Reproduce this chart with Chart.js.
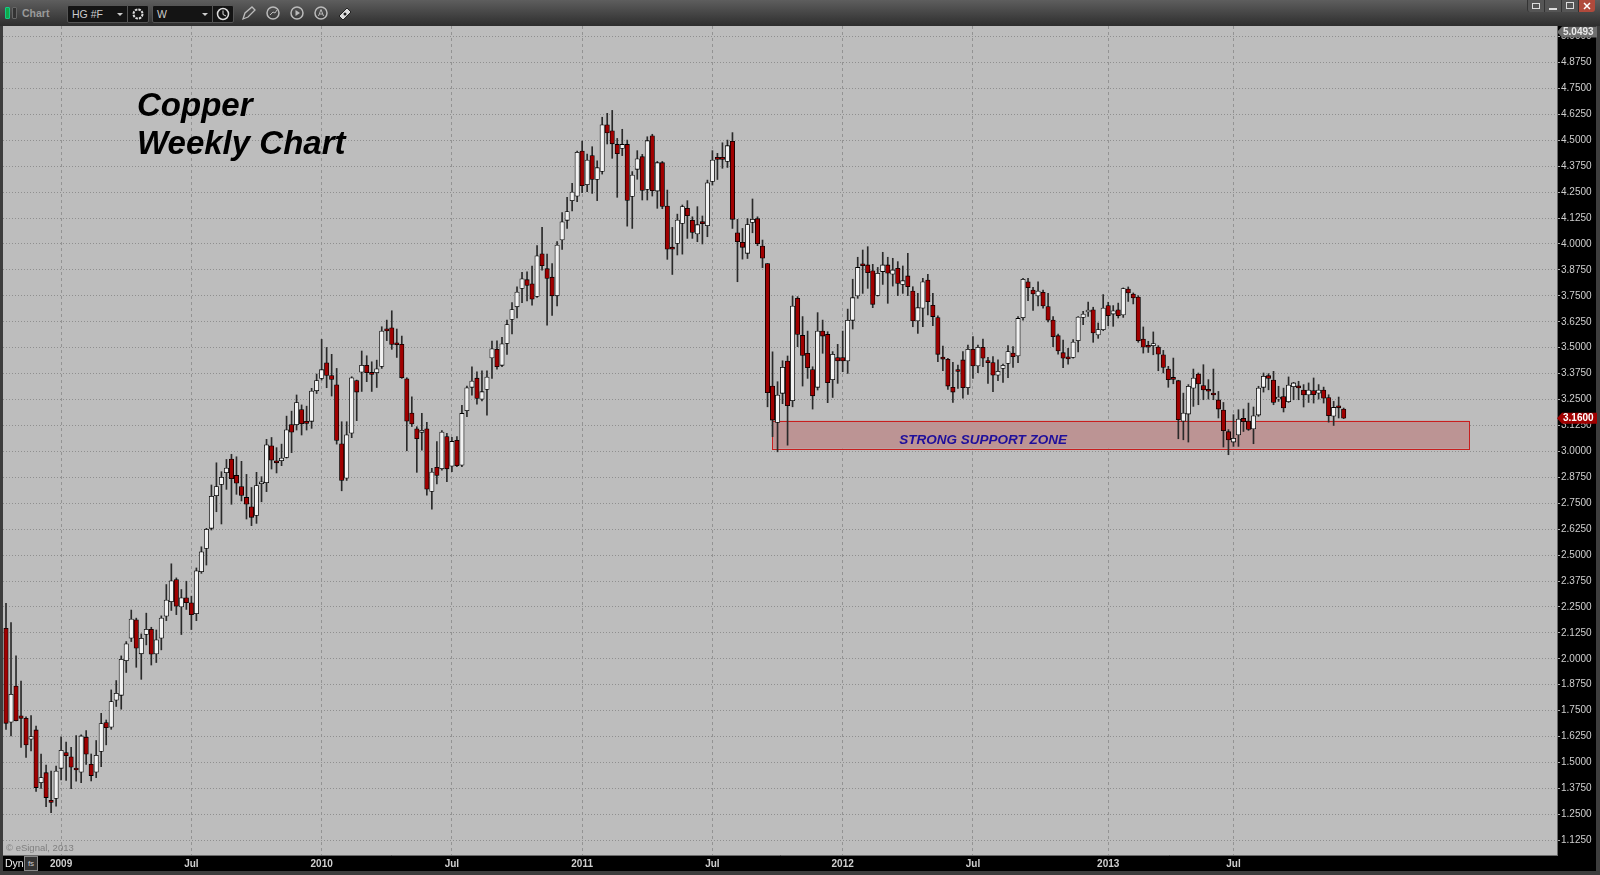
<!DOCTYPE html>
<html>
<head>
<meta charset="utf-8">
<title>Copper Weekly Chart</title>
<script src="https://cdn.jsdelivr.net/npm/chart.js@4"></script>
<style>
html, body { margin: 0; padding: 0; width: 1600px; height: 875px; overflow: hidden; background: #3d3d3d; font-family: "Liberation Sans", Arial, sans-serif; }
#priceChart { position: absolute; left: 0; top: 0; }
#topbar { position: absolute; left: 0; top: 0; width: 1600px; height: 26px; background: linear-gradient(#5e5e5e, #2e2e2e); }
#topbar div, #topbar svg, .over { position: absolute; }
.chartname { left: 22px; top: 7px; font-size: 10.5px; font-weight: bold; color: #9a9a9a; }
.lamp { top: 7px; width: 3px; height: 10px; border: 1px solid #666; border-radius: 1px; }
.pick { top: 5px; height: 16px; background: #141414; border: 1px solid #555; color: #ccc; font-size: 10.5px; line-height: 16px; text-indent: 4px; border-radius: 2px 0 0 2px; box-sizing: content-box; }
.pick span { position: absolute; right: 4px; top: 7px; width: 0; height: 0; border: 3px solid transparent; border-top: 3px solid #ccc; }
.iconbox { top: 5px; width: 20px; height: 16px; background: #141414; border: 1px solid #555; border-radius: 0 2px 2px 0; }
.winbtn { top: 0; width: 16px; height: 12px; background: #555; border-left: 1px solid #333; color: #ddd; }
#title { left: 137px; top: 86px; font-size: 33px; line-height: 38px; font-weight: bold; font-style: italic; color: #000; }
#dyn { left: 5px; top: 857px; font-size: 10.5px; color: #eee; }
#lockbox { left: 24px; top: 856px; width: 12px; height: 13px; border: 1px solid #888; background: #333; color: #ccc; font-size: 8px; line-height: 13px; text-align: center; }
</style>
</head>
<body>
<canvas id="priceChart" width="1600" height="875"></canvas>

<div id="topbar">
  <div class="lamp" style="left:5px;background:#12a84a;border-color:#1c8"></div>
  <div class="lamp" style="left:12px;background:#333"></div>
  <div class="chartname">Chart</div>
  <div class="pick" style="left:67px;width:59px">HG #F<span></span></div>
  <div class="iconbox" style="left:127px">
    <svg style="left:3px;top:1px" width="14" height="14"><circle cx="7" cy="7" r="4.5" fill="none" stroke="#ddd" stroke-width="2" stroke-dasharray="2.5 1"/></svg>
  </div>
  <div class="pick" style="left:152px;width:59px">W<span></span></div>
  <div class="iconbox" style="left:212px">
    <svg style="left:3px;top:1px" width="14" height="14"><circle cx="7" cy="7" r="5.5" fill="none" stroke="#ddd" stroke-width="1.5"/><path d="M7 3.5V7.5L10 9" fill="none" stroke="#ddd"/></svg>
  </div>
  <svg style="left:240px;top:4px" width="18" height="18"><path d="M3 15L5 9L12 3L15 6L8 13Z" fill="none" stroke="#bbb" stroke-width="1.3"/></svg>
  <svg style="left:264px;top:4px" width="18" height="18"><circle cx="9" cy="9" r="6" fill="none" stroke="#bbb" stroke-width="1.5"/><path d="M6 11L9 8L11 9L13 6" fill="none" stroke="#bbb"/></svg>
  <svg style="left:288px;top:4px" width="18" height="18"><circle cx="9" cy="9" r="6" fill="none" stroke="#bbb" stroke-width="1.5"/><path d="M7.5 6V12L12 9Z" fill="#bbb"/></svg>
  <svg style="left:312px;top:4px" width="18" height="18"><circle cx="9" cy="9" r="6" fill="none" stroke="#bbb" stroke-width="1.5"/><path d="M6.5 12L9 5.5L11.5 12M7.5 10H10.5" fill="none" stroke="#bbb"/></svg>
  <svg style="left:336px;top:4px" width="18" height="18"><path d="M3 12L11 4L15 8L7 16Z" fill="#ddd" stroke="#222"/><circle cx="9" cy="10" r="1.5" fill="#222"/></svg>
  <div class="winbtn" style="left:1527px;border-radius:0 0 0 3px"><svg style="left:4px;top:3px" width="9" height="7"><rect x="0.5" y="0.5" width="7" height="5" fill="none" stroke="#ddd"/></svg></div>
  <div class="winbtn" style="left:1544px"><svg style="left:4px;top:8px" width="9" height="2"><rect width="8" height="2" fill="#ddd"/></svg></div>
  <div class="winbtn" style="left:1561px"><svg style="left:4px;top:2px" width="9" height="8"><rect x="0.5" y="0.5" width="7" height="6" fill="none" stroke="#ddd"/></svg></div>
  <div class="winbtn" style="left:1578px;background:#b04a3c;border-radius:0 0 3px 0"><svg style="left:4px;top:2px" width="9" height="8"><path d="M1 1L7 7M7 1L1 7" stroke="#fff" stroke-width="1.5"/></svg></div>
</div>

<div class="over" id="title">Copper<br>Weekly Chart</div>
<div class="over" id="dyn">Dyn</div>
<div class="over" id="lockbox">fs</div>

<script>
// weekly candles, oldest first
const opens = [
  2.147,1.694,1.869,1.725,1.713,1.612,1.657,1.403,1.451,1.318,
  1.327,1.472,1.548,1.527,1.467,1.453,1.622,1.491,1.453,1.553,
  1.693,1.670,1.800,1.824,1.991,2.099,2.188,2.024,2.117,2.142,
  2.023,2.099,2.205,2.275,2.382,2.250,2.294,2.270,2.217,2.420,
  2.532,2.629,2.786,2.841,2.897,2.963,2.884,2.830,2.778,2.733,
  2.691,2.844,2.849,3.027,2.947,2.955,2.971,3.129,3.129,3.202,
  3.137,3.145,3.292,3.352,3.427,3.366,3.321,3.037,2.871,3.088,
  3.342,3.382,3.415,3.379,3.379,3.410,3.583,3.596,3.516,3.516,
  3.350,3.185,3.109,3.092,3.109,2.807,2.923,2.916,3.072,2.929,
  3.053,2.933,3.196,3.309,3.353,3.252,3.299,3.451,3.492,3.415,
  3.520,3.636,3.697,3.786,3.828,3.808,3.747,3.953,3.881,3.840,
  3.750,4.019,4.114,4.209,4.230,4.448,4.286,4.426,4.311,4.350,
  4.575,4.546,4.480,4.461,4.480,4.229,4.360,4.421,4.263,4.522,
  4.255,4.392,4.183,3.977,4.003,4.099,4.172,4.114,4.048,4.100,
  4.088,4.302,4.410,4.410,4.398,4.495,4.054,4.008,3.955,4.104,
  4.122,3.990,3.906,3.315,3.140,3.280,3.436,3.244,3.738,3.559,
  3.473,3.395,3.309,3.580,3.564,3.346,3.452,3.452,3.436,3.632,
  3.749,3.897,3.899,3.871,3.752,3.867,3.899,3.854,3.883,3.805,
  3.846,3.773,3.629,3.690,3.826,3.704,3.645,3.448,3.444,3.309,
  3.387,3.441,3.307,3.492,3.412,3.502,3.436,3.428,3.367,3.400,
  3.424,3.474,3.460,3.645,3.818,3.778,3.749,3.767,3.698,3.633,
  3.558,3.476,3.448,3.453,3.534,3.646,3.672,3.683,3.561,3.587,
  3.703,3.662,3.683,3.658,3.783,3.759,3.744,3.542,3.504,3.510,
  3.503,3.466,3.397,3.349,3.341,3.146,3.180,3.305,3.373,3.317,
  3.292,3.281,3.248,3.199,3.095,3.045,3.079,3.159,3.146,3.108,
  3.175,3.309,3.365,3.344,3.252,3.264,3.240,3.312,3.308,3.296,
  3.272,3.293,3.281,3.296,3.260,3.170,3.212,3.204
];
const closes = [
  1.689,1.829,1.702,1.713,1.585,1.625,1.379,1.427,1.331,1.307,
  1.459,1.559,1.533,1.477,1.464,1.628,1.540,1.437,1.535,1.688,
  1.668,1.794,1.834,1.998,2.072,2.192,2.051,2.099,2.142,2.022,
  2.092,2.196,2.283,2.376,2.254,2.294,2.270,2.213,2.424,2.516,
  2.624,2.783,2.830,2.875,2.920,2.868,2.847,2.788,2.745,2.682,
  2.835,2.847,3.032,2.958,2.945,2.968,3.104,3.093,3.235,3.133,
  3.135,3.291,3.342,3.394,3.366,3.347,3.053,2.860,3.080,3.355,
  3.286,3.415,3.379,3.371,3.398,3.580,3.581,3.516,3.514,3.355,
  3.146,3.132,3.061,3.100,2.818,2.900,2.884,3.093,2.916,3.048,
  2.931,3.183,3.307,3.339,3.255,3.288,3.358,3.495,3.408,3.519,
  3.612,3.684,3.768,3.832,3.800,3.734,3.943,3.895,3.834,3.750,
  3.995,4.107,4.156,4.250,4.442,4.281,4.405,4.311,4.368,4.575,
  4.535,4.483,4.435,4.480,4.210,4.332,4.411,4.258,4.498,4.257,
  4.392,4.181,3.975,3.975,4.115,4.180,4.136,4.056,4.093,4.098,
  4.295,4.405,4.408,4.408,4.474,4.119,4.011,3.984,4.094,4.119,
  4.001,3.931,3.283,3.151,3.272,3.405,3.220,3.701,3.564,3.463,
  3.404,3.268,3.580,3.556,3.331,3.468,3.436,3.436,3.632,3.741,
  3.887,3.895,3.862,3.709,3.859,3.899,3.859,3.875,3.810,3.823,
  3.794,3.629,3.693,3.818,3.722,3.650,3.468,3.445,3.315,3.286,
  3.385,3.307,3.492,3.412,3.502,3.449,3.428,3.367,3.386,3.415,
  3.481,3.457,3.641,3.830,3.789,3.759,3.773,3.701,3.633,3.553,
  3.484,3.449,3.446,3.527,3.648,3.662,3.680,3.571,3.587,3.691,
  3.654,3.678,3.654,3.785,3.764,3.740,3.534,3.502,3.502,3.518,
  3.469,3.405,3.346,3.347,3.153,3.185,3.314,3.354,3.325,3.296,
  3.290,3.272,3.204,3.100,3.055,3.063,3.156,3.143,3.106,3.172,
  3.305,3.362,3.352,3.236,3.260,3.209,3.320,3.330,3.306,3.272,
  3.296,3.273,3.296,3.256,3.172,3.212,3.210,3.160
];
const highs = [
  2.268,2.175,2.014,1.892,1.720,1.726,1.676,1.541,1.488,1.459,
  1.483,1.622,1.598,1.573,1.630,1.633,1.654,1.541,1.606,1.737,
  1.705,1.850,1.895,2.014,2.083,2.235,2.196,2.120,2.220,2.152,
  2.139,2.207,2.358,2.458,2.390,2.334,2.374,2.302,2.438,2.540,
  2.629,2.838,2.945,2.902,2.961,2.986,2.974,2.952,2.889,2.826,
  2.899,2.878,3.058,3.067,3.018,3.035,3.170,3.194,3.272,3.224,
  3.218,3.304,3.373,3.540,3.501,3.468,3.400,3.143,3.143,3.360,
  3.344,3.484,3.461,3.432,3.440,3.601,3.633,3.678,3.590,3.556,
  3.355,3.263,3.119,3.183,3.140,2.918,3.047,3.100,3.087,3.068,
  3.071,3.222,3.315,3.408,3.384,3.389,3.389,3.532,3.533,3.550,
  3.633,3.718,3.794,3.863,3.866,3.893,3.992,4.080,3.951,3.906,
  4.011,4.152,4.225,4.292,4.448,4.496,4.434,4.469,4.401,4.611,
  4.630,4.644,4.509,4.553,4.501,4.349,4.450,4.432,4.517,4.529,
  4.398,4.398,4.260,4.080,4.144,4.188,4.209,4.131,4.180,4.135,
  4.308,4.450,4.437,4.488,4.501,4.537,4.119,4.075,4.123,4.217,
  4.131,4.019,3.906,3.480,3.336,3.437,3.460,3.749,3.746,3.650,
  3.580,3.408,3.669,3.633,3.577,3.481,3.516,3.580,3.686,3.830,
  3.936,3.971,3.987,3.902,3.887,3.960,3.936,3.931,3.915,3.894,
  3.955,3.794,3.762,3.834,3.854,3.762,3.653,3.508,3.449,3.429,
  3.416,3.481,3.513,3.553,3.513,3.542,3.453,3.457,3.441,3.421,
  3.510,3.505,3.650,3.834,3.834,3.791,3.818,3.778,3.762,3.650,
  3.566,3.537,3.497,3.539,3.650,3.675,3.720,3.695,3.619,3.756,
  3.719,3.703,3.715,3.788,3.793,3.764,3.751,3.600,3.531,3.576,
  3.510,3.487,3.410,3.450,3.343,3.281,3.322,3.397,3.378,3.418,
  3.346,3.397,3.289,3.236,3.105,3.177,3.201,3.204,3.233,3.214,
  3.314,3.378,3.375,3.386,3.314,3.305,3.359,3.333,3.338,3.322,
  3.330,3.354,3.322,3.310,3.273,3.241,3.262,3.209
];
const lows = [
  1.660,1.628,1.700,1.573,1.524,1.556,1.360,1.375,1.287,1.258,
  1.290,1.416,1.414,1.374,1.410,1.403,1.491,1.411,1.427,1.480,
  1.585,1.660,1.770,1.757,1.934,2.083,1.959,1.901,2.067,1.970,
  1.982,2.043,2.184,2.233,2.213,2.117,2.238,2.141,2.184,2.412,
  2.452,2.621,2.709,2.650,2.817,2.745,2.793,2.761,2.674,2.642,
  2.653,2.757,2.806,2.915,2.896,2.931,2.968,2.994,3.103,3.079,
  3.103,3.111,3.279,3.344,3.307,3.267,3.035,2.810,2.860,3.066,
  3.148,3.289,3.336,3.289,3.308,3.400,3.534,3.492,3.453,3.352,
  3.003,3.120,2.899,3.006,2.789,2.722,2.843,2.910,2.854,2.902,
  2.926,2.926,3.167,3.271,3.228,3.243,3.175,3.352,3.397,3.408,
  3.468,3.566,3.644,3.717,3.726,3.705,3.742,3.874,3.609,3.656,
  3.701,3.974,4.075,4.160,4.204,4.247,4.252,4.244,4.209,4.337,
  4.482,4.413,4.225,4.426,4.086,4.075,4.312,4.212,4.212,4.231,
  4.172,4.170,3.926,3.853,3.947,3.951,4.027,4.027,4.011,4.000,
  4.035,4.284,4.311,4.365,4.369,4.075,3.818,3.927,3.930,4.054,
  3.992,3.886,3.215,3.071,2.998,3.230,3.030,3.215,3.505,3.315,
  3.352,3.204,3.296,3.473,3.235,3.260,3.328,3.384,3.376,3.590,
  3.738,3.762,3.786,3.693,3.749,3.805,3.714,3.797,3.751,3.762,
  3.751,3.601,3.569,3.601,3.658,3.606,3.432,3.389,3.299,3.236,
  3.304,3.256,3.275,3.352,3.379,3.408,3.328,3.288,3.341,3.333,
  3.355,3.405,3.428,3.633,3.727,3.680,3.701,3.690,3.624,3.505,
  3.469,3.404,3.421,3.450,3.479,3.611,3.651,3.526,3.545,3.582,
  3.606,3.603,3.643,3.646,3.723,3.711,3.526,3.474,3.477,3.466,
  3.389,3.378,3.309,3.326,3.061,3.056,3.045,3.217,3.225,3.249,
  3.252,3.249,3.161,3.021,2.984,3.024,3.024,3.096,3.101,3.037,
  3.169,3.286,3.297,3.225,3.241,3.190,3.236,3.249,3.249,3.214,
  3.236,3.233,3.252,3.233,3.141,3.125,3.161,3.158
];

// x axis: position in weeks counted from the first candle
const xTickWeeks = [11, 37, 63, 89, 115, 141, 167, 193, 220, 245];
const xTickLabels = ['2009', 'Jul', '2010', 'Jul', '2011', 'Jul', '2012', 'Jul', '2013', 'Jul'];
const yTickValues = [1.125, 1.25, 1.375, 1.5, 1.625, 1.75, 1.875, 2, 2.125, 2.25, 2.375, 2.5, 2.625, 2.75, 2.875, 3,
  3.125, 3.25, 3.375, 3.5, 3.625, 3.75, 3.875, 4, 4.125, 4.25, 4.375, 4.5, 4.625, 4.75, 4.875, 5];

// support zone and the two price tags
const zonePrices = [3.013, 3.148];
const zoneWeeks = [152.95, 292.1];
const zoneLabel = 'STRONG SUPPORT ZONE';
const zoneLabelWeek = 178.3;
const zoneLabelPrice = 3.0;
const lastPrice = 3.16;
const topPrice = 5.0493;

const redFill = '#a00000';
const whiteFill = '#f2f2f2';

function priceTag(ctx, y, text, fill, color) {
    const x = 1557;
    ctx.fillStyle = fill;
    ctx.beginPath();
    ctx.moveTo(x, y);
    ctx.lineTo(x + 5, y - 5.5);
    ctx.lineTo(x + 40, y - 5.5);
    ctx.lineTo(x + 40, y + 5.5);
    ctx.lineTo(x + 5, y + 5.5);
    ctx.closePath();
    ctx.fill();
    ctx.fillStyle = color;
    ctx.font = 'bold 10px "Liberation Sans"';
    ctx.textAlign = 'left';
    ctx.textBaseline = 'middle';
    ctx.fillText(text, x + 6, y + 0.5);
}

const chromePlugin = {
    id: 'chrome',
    beforeDraw(chart) {
        const { ctx, chartArea: a } = chart;
        ctx.save();
        ctx.fillStyle = '#000';
        ctx.fillRect(a.left, a.top, 1596 - a.left, 871 - a.top);
        ctx.fillStyle = '#bdbdbd';
        ctx.fillRect(a.left, a.top, a.right - a.left, a.bottom - a.top);
        ctx.restore();
    },
    beforeDatasetsDraw(chart) {
        const { ctx, scales: { x, y } } = chart;
        const left = x.getPixelForValue(zoneWeeks[0]);
        const right = x.getPixelForValue(zoneWeeks[1]);
        const top = y.getPixelForValue(zonePrices[1]);
        const bottom = y.getPixelForValue(zonePrices[0]);
        ctx.save();
        ctx.fillStyle = '#bc9494';
        ctx.fillRect(left, top, right - left, bottom - top);
        ctx.strokeStyle = '#c81e1e';
        ctx.lineWidth = 1;
        ctx.strokeRect(Math.round(left) + 0.5, Math.round(top) + 0.5, Math.round(right - left), Math.round(bottom - top));
        ctx.restore();
    },
    afterDraw(chart) {
        const { ctx, chartArea: a, scales: { x, y } } = chart;
        ctx.save();
        // the zone caption
        ctx.fillStyle = '#1f0f9c';
        ctx.font = 'italic bold 13.5px "Liberation Sans"';
        ctx.textAlign = 'left';
        ctx.textBaseline = 'alphabetic';
        ctx.fillText(zoneLabel, x.getPixelForValue(zoneLabelWeek), y.getPixelForValue(zoneLabelPrice) - 7);
        // copyright in the corner
        ctx.fillStyle = '#7f7f7f';
        ctx.font = '9.5px "Liberation Sans"';
        ctx.fillText('© eSignal, 2013', 6, 851);
        // price tags, the top one is kept inside the plot
        priceTag(ctx, Math.max(a.top + 6, y.getPixelForValue(topPrice)), topPrice.toFixed(4), '#6e6e6e', '#e8e8e8');
        priceTag(ctx, y.getPixelForValue(lastPrice), lastPrice.toFixed(4), '#a00000', '#fff');
        ctx.restore();
    }
};

const bodies = opens.map((o, i) => ({ x: i, y: [o, closes[i]] }));
const wicks = highs.map((h, i) => ({ x: i, y: [lows[i], h] }));

new Chart(document.getElementById('priceChart'), {
    type: 'bar',
    plugins: [chromePlugin],
    data: {
        datasets: [
            {
                label: 'Body',
                data: bodies,
                grouped: false,
                barThickness: 4.4,
                minBarLength: 2,
                borderSkipped: false,
                borderWidth: 0.8,
                borderColor: '#000',
                backgroundColor: opens.map((o, i) => (closes[i] >= o ? whiteFill : redFill))
            },
            {
                label: 'Wick',
                data: wicks,
                grouped: false,
                barThickness: 1,
                backgroundColor: '#2a2a2a',
                borderWidth: 0
            }
        ]
    },
    options: {
        responsive: false,
        animation: false,
        layout: { padding: { left: 3, top: 26, right: 3, bottom: 4 } },
        plugins: { legend: { display: false }, tooltip: { enabled: false } },
        scales: {
            x: {
                type: 'linear',
                offset: false,
                min: -0.6,
                max: 309.58,
                afterBuildTicks(axis) { axis.ticks = xTickWeeks.map(v => ({ value: v })); },
                afterFit(axis) { axis.height = 16; },
                border: { display: true, color: '#6a6a6a', dash: [3, 3] },
                grid: { offset: false, color: '#939393', drawTicks: false, lineWidth: 1 },
                ticks: {
                    autoSkip: false,
                    maxRotation: 0,
                    padding: 3,
                    color: '#cfcfcf',
                    font: { family: 'Liberation Sans', size: 10, weight: 'bold' },
                    callback: value => xTickLabels[xTickWeeks.indexOf(value)]
                }
            },
            y: {
                position: 'right',
                min: 1.054,
                max: 5.051,
                afterBuildTicks(axis) { axis.ticks = yTickValues.map(v => ({ value: v })); },
                afterFit(axis) { axis.width = 40; },
                border: { display: true, color: '#6a6a6a', dash: [1, 2] },
                grid: { color: '#8f8f8f', tickColor: '#aaa', tickLength: 3, lineWidth: 1 },
                ticks: {
                    autoSkip: false,
                    padding: 1,
                    color: '#cfcfcf',
                    font: { family: 'Liberation Sans', size: 10 },
                    callback: value => value.toFixed(4)
                }
            }
        }
    }
});
</script>
</body>
</html>
